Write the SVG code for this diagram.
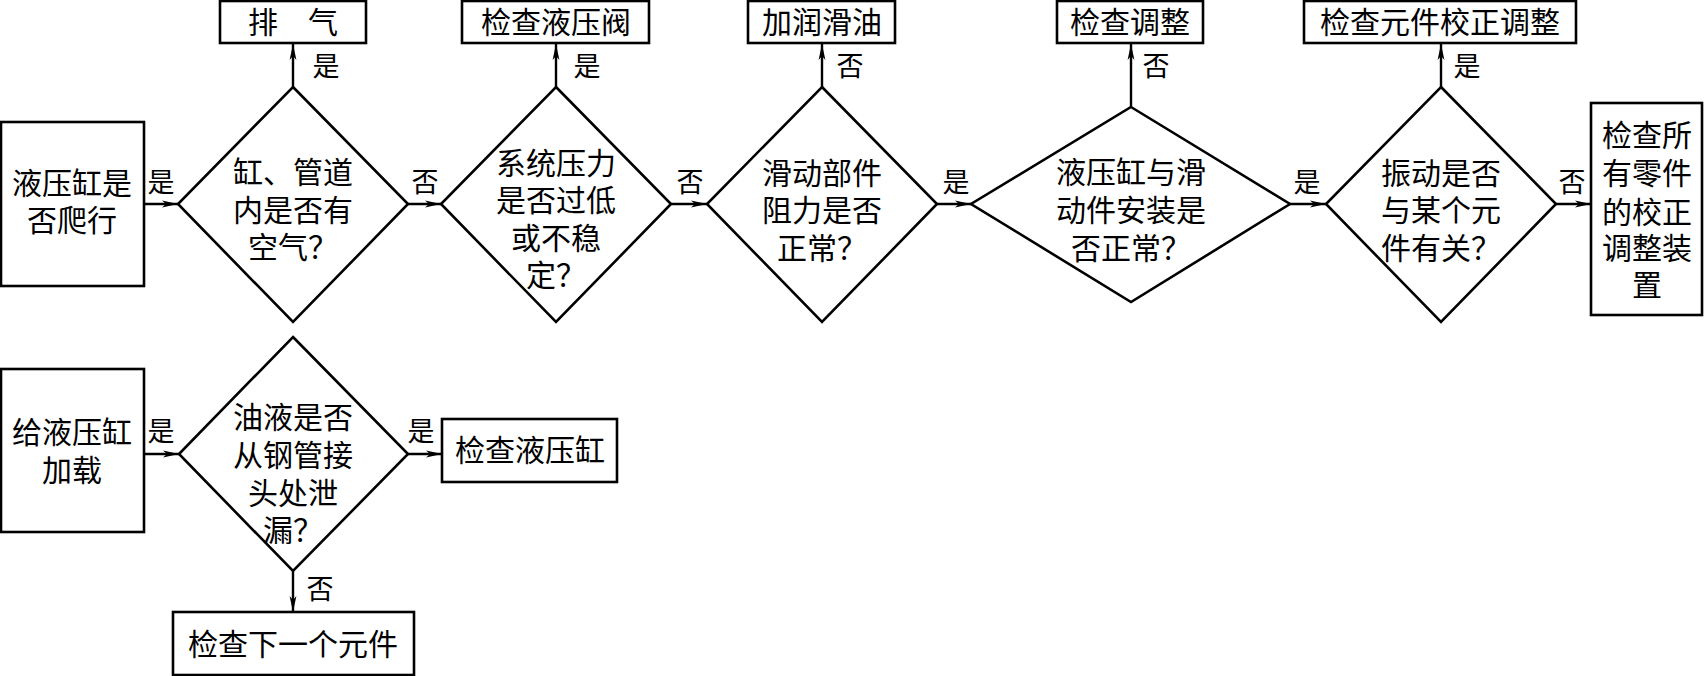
<svg xmlns="http://www.w3.org/2000/svg" width="1704" height="676" viewBox="0 0 1704 676">
<style>
.s{fill:#fff;stroke:#000;stroke-width:2.6}
.t{font-family:"Noto Sans CJK SC","Noto Sans CJK JP",sans-serif;font-size:30px;fill:#000;text-anchor:middle}
.l{font-family:"Noto Sans CJK SC","Noto Sans CJK JP",sans-serif;font-size:27px;fill:#000;text-anchor:middle}
.c{fill:none;stroke:#000;stroke-width:2.4}
</style>
<defs>
<marker id="arr" viewBox="0 0 16 8" refX="16" refY="4" markerWidth="16" markerHeight="8" markerUnits="userSpaceOnUse" orient="auto">
<path d="M0,0.6 L16,4 L0,7.4 L4,4 Z" fill="#000"/>
</marker>
</defs>
<rect width="1704" height="676" fill="#fff"/>

<g id="connectors">
<line class="c" x1="144" y1="204" x2="178" y2="204" marker-end="url(#arr)"/>
<line class="c" x1="408" y1="204" x2="441" y2="204" marker-end="url(#arr)"/>
<line class="c" x1="671" y1="204" x2="707" y2="204" marker-end="url(#arr)"/>
<line class="c" x1="937" y1="204" x2="971" y2="204" marker-end="url(#arr)"/>
<line class="c" x1="1290" y1="204" x2="1326" y2="204" marker-end="url(#arr)"/>
<line class="c" x1="1556" y1="204" x2="1591" y2="204" marker-end="url(#arr)"/>
<line class="c" x1="293" y1="87" x2="293" y2="44" marker-end="url(#arr)"/>
<line class="c" x1="556" y1="87" x2="556" y2="44" marker-end="url(#arr)"/>
<line class="c" x1="822" y1="87" x2="822" y2="44" marker-end="url(#arr)"/>
<line class="c" x1="1131" y1="107" x2="1131" y2="44" marker-end="url(#arr)"/>
<line class="c" x1="1441" y1="87" x2="1441" y2="44" marker-end="url(#arr)"/>
<line class="c" x1="144" y1="454" x2="179" y2="454" marker-end="url(#arr)"/>
<line class="c" x1="408" y1="454" x2="442" y2="454" marker-end="url(#arr)"/>
<line class="c" x1="293" y1="571" x2="293" y2="612" marker-end="url(#arr)"/>
<text class="l" x="161" y="192">是</text>
<text class="l" x="425" y="192">否</text>
<text class="l" x="690" y="192">否</text>
<text class="l" x="956" y="192">是</text>
<text class="l" x="1307" y="192">是</text>
<text class="l" x="1572" y="192">否</text>
<text class="l" x="326" y="76">是</text>
<text class="l" x="587" y="76">是</text>
<text class="l" x="850" y="76">否</text>
<text class="l" x="1156" y="76">否</text>
<text class="l" x="1467" y="76">是</text>
<text class="l" x="161" y="441">是</text>
<text class="l" x="421" y="441">是</text>
<text class="l" x="320" y="599">否</text>
</g>

<g id="start1">
<rect class="s" x="1" y="122" width="143" height="164"/>
<text class="t" x="72" y="194">液压缸是</text>
<text class="t" x="72" y="231">否爬行</text>
</g>
<g id="d1">
<polygon class="s" points="293,87 408,204 293,322 178,204"/>
<text class="t" x="293" y="183">缸、管道</text>
<text class="t" x="293" y="221">内是否有</text>
<text class="t" x="293" y="258">空气？</text>
</g>
<g id="b1">
<rect class="s" x="220" y="1" width="146" height="42"/>
<text class="t" x="293" y="33">排　气</text>
</g>
<g id="d2">
<polygon class="s" points="556,87 671,204 556,322 441,204"/>
<text class="t" x="556" y="174">系统压力</text>
<text class="t" x="556" y="211">是否过低</text>
<text class="t" x="556" y="249">或不稳</text>
<text class="t" x="556" y="286">定？</text>
</g>
<g id="b2">
<rect class="s" x="462" y="1" width="187" height="42"/>
<text class="t" x="556" y="33">检查液压阀</text>
</g>
<g id="d3">
<polygon class="s" points="822,87 937,204 822,322 707,204"/>
<text class="t" x="822" y="184">滑动部件</text>
<text class="t" x="822" y="221">阻力是否</text>
<text class="t" x="822" y="259">正常？</text>
</g>
<g id="b3">
<rect class="s" x="748" y="1" width="147" height="42"/>
<text class="t" x="822" y="33">加润滑油</text>
</g>
<g id="d4">
<polygon class="s" points="1131,107 1290,204 1131,302 971,204"/>
<text class="t" x="1131" y="183">液压缸与滑</text>
<text class="t" x="1131" y="221">动件安装是</text>
<text class="t" x="1131" y="259">否正常？</text>
</g>
<g id="b4">
<rect class="s" x="1057" y="1" width="146" height="42"/>
<text class="t" x="1130" y="33">检查调整</text>
</g>
<g id="d5">
<polygon class="s" points="1441,87 1556,204 1441,322 1326,204"/>
<text class="t" x="1441" y="184">振动是否</text>
<text class="t" x="1441" y="221">与某个元</text>
<text class="t" x="1441" y="259">件有关？</text>
</g>
<g id="b5">
<rect class="s" x="1304" y="1" width="272" height="42"/>
<text class="t" x="1440" y="33">检查元件校正调整</text>
</g>
<g id="end1">
<rect class="s" x="1591" y="103" width="111" height="212"/>
<text class="t" x="1647" y="146">检查所</text>
<text class="t" x="1647" y="184">有零件</text>
<text class="t" x="1647" y="223">的校正</text>
<text class="t" x="1647" y="259">调整装</text>
<text class="t" x="1647" y="296">置</text>
</g>

<g id="start2">
<rect class="s" x="1" y="369" width="143" height="163"/>
<text class="t" x="72" y="443">给液压缸</text>
<text class="t" x="72" y="481">加载</text>
</g>
<g id="d6">
<polygon class="s" points="293,337 408,454 293,571 179,454"/>
<text class="t" x="293" y="428">油液是否</text>
<text class="t" x="293" y="466">从钢管接</text>
<text class="t" x="293" y="504">头处泄</text>
<text class="t" x="293" y="541">漏？</text>
</g>
<g id="b6">
<rect class="s" x="442" y="419" width="175" height="63"/>
<text class="t" x="530" y="461">检查液压缸</text>
</g>
<g id="b7">
<rect class="s" x="173" y="612" width="241" height="63"/>
<text class="t" x="293" y="655">检查下一个元件</text>
</g>
</svg>
